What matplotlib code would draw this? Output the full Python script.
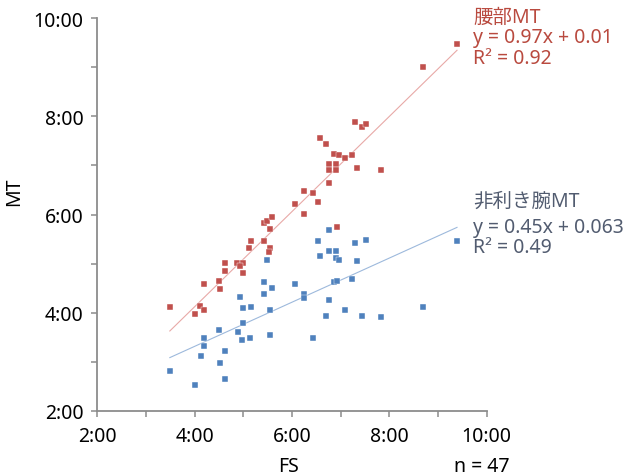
import numpy as np
import matplotlib
matplotlib.use("Agg")
import matplotlib.pyplot as plt
from matplotlib.ticker import FixedLocator, FuncFormatter

# ---------- data (times in minutes, shown as m:ss) ----------
FS_WAIST = [3.49, 4.00, 4.12, 4.19, 4.19, 4.50, 4.52, 4.63, 4.63, 4.88,
            4.99, 4.93, 4.99, 5.12, 5.16, 5.43, 5.55, 5.53, 5.42, 5.49,
            5.59, 5.55, 6.06, 6.25, 6.43, 6.53, 6.25, 6.75, 6.75, 6.75,
            6.90, 6.90, 6.57, 6.70, 6.86, 6.96, 7.09, 7.23, 7.33, 7.82,
            7.29, 7.43, 7.53, 8.69, 9.39, 6.92]
MT_WAIST = [4.11, 3.98, 4.14, 4.05, 4.58, 4.64, 4.48, 5.02, 4.85, 5.02,
            5.02, 4.95, 4.81, 5.31, 5.45, 5.45, 5.31, 5.24, 5.82, 5.87,
            5.94, 5.71, 6.21, 6.47, 6.44, 6.25, 6.02, 6.64, 7.02, 6.90,
            7.02, 6.90, 7.55, 7.44, 7.24, 7.21, 7.15, 7.22, 6.95, 6.91,
            7.88, 7.78, 7.84, 9.01, 9.48, 5.75]

FS_ARM = [3.49, 4.00, 4.13, 4.19, 4.19, 4.50, 4.52, 4.63, 4.63, 4.89,
          4.97, 5.00, 5.13, 4.93, 5.00, 5.16, 5.55, 5.55, 5.43, 5.59,
          5.43, 5.49, 6.06, 6.25, 6.25, 6.43, 6.53, 6.57, 6.75, 6.75,
          6.90, 6.90, 6.96, 6.86, 6.93, 6.75, 6.70, 7.09, 7.23, 7.29,
          7.53, 7.33, 7.43, 7.82, 8.69, 9.39]
MT_ARM = [2.81, 2.52, 3.12, 3.31, 3.48, 3.65, 2.98, 3.21, 2.65, 3.61,
          3.45, 3.78, 3.48, 4.31, 4.09, 4.11, 4.05, 3.54, 4.62, 4.51,
          4.37, 5.07, 4.58, 4.37, 4.30, 3.48, 5.45, 5.15, 5.68, 5.25,
          5.25, 5.11, 5.07, 4.62, 4.65, 4.25, 3.94, 4.05, 4.69, 5.41,
          5.47, 5.05, 3.94, 3.91, 4.11, 5.45]

# Excel trendline coefficients (intercept in days, axis in h:mm units)
FIT_WAIST = (0.97, 0.01)
FIT_ARM = (0.45, 0.063)

LABEL_WAIST = ["腰部MT", "y = 0.97x + 0.01", "R² = 0.92"]
LABEL_ARM = ["非利き腕MT", "y = 0.45x + 0.063", "R² = 0.49"]

TICKS = [2, 4, 6, 8, 10]
N_TEXT = "n = 47"

RED = "#C0504D"
BLUE = "#4F81BD"
RED_TXT = "#B94A3F"
BLUE_TXT = "#525C70"
GRAY = "#8C8C8C"

FONT = ["Noto Sans", "Noto Sans CJK JP"]
FS = 14


def mmss(v, pos=None):
    return f"{int(round(v))}:00"


def main():
    plt.rcParams["font.family"] = FONT

    fig = plt.figure(figsize=(6.23, 4.77), dpi=100)
    ax = fig.add_axes([97.3 / 623, 65.3 / 477, 389.4 / 623, 392.4 / 477])

    for xs, ys, fit, col, lcol in [
        (FS_WAIST, MT_WAIST, FIT_WAIST, RED, "#E8A9A7"),
        (FS_ARM, MT_ARM, FIT_ARM, BLUE, "#9DB9DC"),
    ]:
        xs = np.array(xs)
        xl = np.array([xs.min(), xs.max()])
        ax.plot(xl, fit[0] * xl + fit[1] * 24, color=lcol, lw=0.8, zorder=1)
        ax.plot(xs, ys, ls="none", marker="s", ms=4.6, color=col,
                mec="white", mew=0.3, zorder=2)

    ax.set_xlim(2, 10)
    ax.set_ylim(2, 10)
    ax.xaxis.set_major_locator(FixedLocator(TICKS))
    ax.yaxis.set_major_locator(FixedLocator(TICKS))
    ax.xaxis.set_minor_locator(FixedLocator([3, 5, 7, 9]))
    ax.yaxis.set_minor_locator(FixedLocator([3, 5, 7, 9]))
    ax.xaxis.set_major_formatter(FuncFormatter(mmss))
    ax.yaxis.set_major_formatter(FuncFormatter(mmss))
    ax.tick_params(which="both", direction="out", length=4, width=1.1,
                   color=GRAY, labelsize=FS, labelcolor="black")
    ax.tick_params(axis="x", pad=7)
    ax.tick_params(axis="y", pad=6)

    for s in ["top", "right"]:
        ax.spines[s].set_visible(False)
    for s in ["left", "bottom"]:
        ax.spines[s].set_color(GRAY)
        ax.spines[s].set_linewidth(1.3)

    fig.text(288 / 623, 1 - 467 / 477, "FS", ha="center", va="center", fontsize=FS)
    fig.text(482 / 623, 1 - 467 / 477, N_TEXT, ha="center", va="center", fontsize=FS)
    fig.text(14 / 623, 1 - 192 / 477, "MT", ha="center", va="center",
             rotation=90, fontsize=FS)

    for txt, yc in zip(LABEL_WAIST, [18.3, 38.5, 59.3]):
        fig.text(473 / 623, 1 - yc / 477, txt, ha="left", va="center",
                 fontsize=FS, color=RED_TXT)
    for txt, yc in zip(LABEL_ARM, [201.7, 227.7, 248.3]):
        fig.text(473 / 623, 1 - yc / 477, txt, ha="left", va="center",
                 fontsize=FS, color=BLUE_TXT)

    fig.savefig("out.png", dpi=100)
    plt.close(fig)


if __name__ == "__main__":
    main()
